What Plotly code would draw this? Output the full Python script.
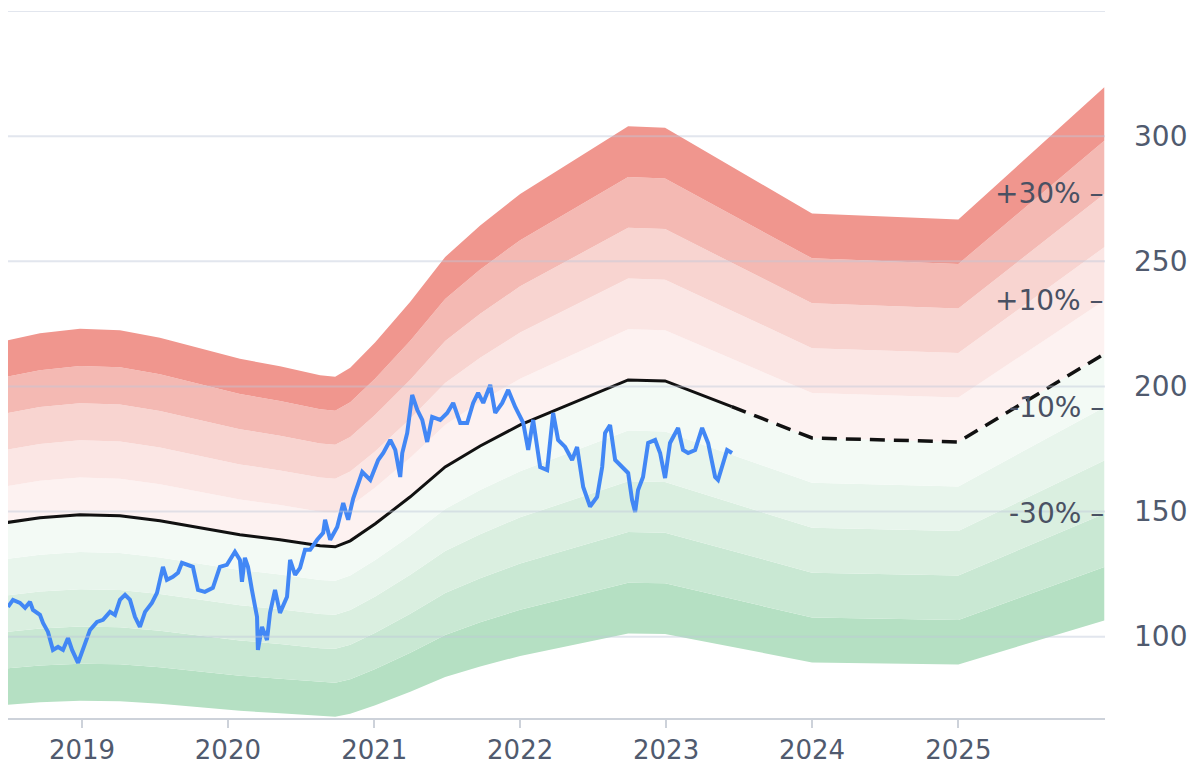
import plotly.graph_objects as go
from datetime import datetime, timedelta

# ---------------- data ----------------
# fair value (decimal years, value)
fv_t = [2018.45, 2018.712, 2018.986, 2019.260, 2019.534, 2019.808, 2020.082, 2020.356,
        2020.630, 2020.733, 2020.836, 2021.007, 2021.247, 2021.486, 2021.726, 2022.0,
        2022.411, 2022.740, 2022.993, 2023.45, 2024.0, 2025.0, 2026.0]
fv_v = [145.3, 147.5, 148.7, 148.3, 146.3, 143.5, 140.7, 138.7,
        136.3, 135.9, 138.3, 145.1, 155.9, 167.8, 176.2, 184.6,
        194.6, 202.6, 202.2, 191.9, 179.4, 177.8, 213.0]
fv_last_actual = 2023.45  # solid up to here, dashed (estimate) after

# share price (decimal years, value)
price_t = [2018.493, 2018.527, 2018.575, 2018.610, 2018.644, 2018.664, 2018.712, 2018.733,
           2018.767, 2018.801, 2018.836, 2018.870, 2018.904, 2018.932, 2018.973, 2019.007,
           2019.055, 2019.103, 2019.144, 2019.192, 2019.226, 2019.260, 2019.295, 2019.329,
           2019.363, 2019.397, 2019.432, 2019.479, 2019.514, 2019.555, 2019.582, 2019.623,
           2019.658, 2019.685, 2019.719, 2019.760, 2019.795, 2019.842, 2019.897, 2019.945,
           2019.993, 2020.048, 2020.082, 2020.096, 2020.116, 2020.137, 2020.164, 2020.199,
           2020.205, 2020.233, 2020.267, 2020.288, 2020.322, 2020.356, 2020.404, 2020.425,
           2020.459, 2020.493, 2020.527, 2020.562, 2020.610, 2020.651, 2020.664, 2020.699,
           2020.747, 2020.788, 2020.822, 2020.856, 2020.918, 2020.973, 2021.027, 2021.062,
           2021.110, 2021.144, 2021.178, 2021.192, 2021.226, 2021.260, 2021.295, 2021.329,
           2021.363, 2021.397, 2021.452, 2021.500, 2021.541, 2021.589, 2021.637, 2021.678,
           2021.712, 2021.747, 2021.795, 2021.829, 2021.877, 2021.918, 2021.966, 2022.021,
           2022.055, 2022.089, 2022.137, 2022.185, 2022.226, 2022.260, 2022.308, 2022.356,
           2022.390, 2022.432, 2022.479, 2022.527, 2022.562, 2022.582, 2022.616, 2022.651,
           2022.699, 2022.740, 2022.767, 2022.788, 2022.808, 2022.842, 2022.877, 2022.925,
           2022.959, 2022.993, 2023.027, 2023.082, 2023.116, 2023.151, 2023.199, 2023.247,
           2023.288, 2023.336, 2023.356, 2023.390, 2023.418, 2023.452]
price_v = [111.9, 114.7, 113.5, 111.5, 113.9, 110.7, 108.7, 105.5,
           101.9, 94.7, 95.9, 94.7, 99.5, 94.7, 89.5, 94.7,
           102.7, 105.9, 106.7, 109.9, 108.7, 114.7, 116.7, 114.7,
           107.9, 103.9, 109.9, 113.5, 117.5, 127.9, 122.7, 123.9,
           125.5, 129.5, 128.7, 127.9, 118.7, 117.9, 119.5, 127.9,
           128.7, 133.9, 130.7, 121.9, 131.5, 127.9, 118.7, 107.9,
           94.7, 103.9, 98.7, 109.5, 118.7, 109.5, 115.9, 130.7,
           124.7, 127.5, 134.7, 134.7, 138.7, 141.5, 146.7, 138.7,
           143.8, 153.4, 146.7, 155.2, 165.8, 162.6, 170.6, 173.4,
           178.6, 174.6, 163.8, 173.4, 181.4, 196.6, 190.6, 186.6,
           177.8, 187.8, 186.6, 189.4, 193.4, 185.4, 185.4, 193.4,
           197.4, 193.4, 200.6, 189.4, 193.4, 198.6, 191.8, 185.4,
           174.6, 186.6, 167.8, 166.6, 189.4, 178.6, 175.8, 170.6,
           175.8, 159.8, 152.0, 155.8, 167.8, 181.4, 184.6, 170.6,
           167.8, 165.4, 154.6, 149.8, 158.6, 163.8, 177.4, 178.6,
           173.4, 163.4, 177.4, 183.4, 174.6, 173.4, 174.6, 183.4,
           177.4, 163.8, 162.6, 169.4, 174.6, 173.4]

band_steps = [-0.5, -0.4, -0.3, -0.2, -0.1, 0.0, 0.1, 0.2, 0.3, 0.4, 0.5]
band_colors = ["rgb(181,224,195)", "rgb(201,232,211)", "rgb(218,239,224)",
               "rgb(232,245,236)", "rgb(243,250,245)",
               "rgb(253,242,241)", "rgb(251,230,228)", "rgb(248,212,208)",
               "rgb(244,185,179)", "rgb(240,150,142)"]
label_steps = [0.3, 0.1, -0.1, -0.3]
label_texts = ["+30% \u2013", "+10% \u2013", "-10% \u2013", "-30% \u2013"]
year_ticks = [2019, 2020, 2021, 2022, 2023, 2024, 2025]
y_ticks = [100, 150, 200, 250, 300]
grid_vals = [100, 150, 200, 250, 300, 350]

FONT = "DejaVu Sans"


def to_date(t):
    y = int(t // 1)
    start = datetime(y, 1, 1)
    days = (datetime(y + 1, 1, 1) - start).days
    return start + timedelta(days=(t - y) * days)


fv_x = [to_date(t) for t in fv_t]
px_x = [to_date(t) for t in price_t]

fig = go.Figure()

# bands
for i, s in enumerate(band_steps):
    fig.add_trace(go.Scatter(
        x=fv_x, y=[v * (1 + s) for v in fv_v], mode="lines",
        line=dict(width=0), hoverinfo="skip",
        fill=None if i == 0 else "tonexty",
        fillcolor=None if i == 0 else band_colors[i - 1],
    ))

# fair value line: solid then dashed
sx = [x for x, t in zip(fv_x, fv_t) if t <= fv_last_actual]
sy = [v for v, t in zip(fv_v, fv_t) if t <= fv_last_actual]
dx = [x for x, t in zip(fv_x, fv_t) if t >= fv_last_actual]
dy = [v for v, t in zip(fv_v, fv_t) if t >= fv_last_actual]
fig.add_trace(go.Scatter(x=sx, y=sy, mode="lines", line=dict(color="#111111", width=3)))
fig.add_trace(go.Scatter(x=dx, y=dy, mode="lines",
                         line=dict(color="#111111", width=3.5, dash="15px,9px")))

# price
fig.add_trace(go.Scatter(x=px_x, y=price_v, mode="lines",
                         line=dict(color="rgb(66,135,245)", width=4)))

# gridlines above bands
shapes = []
for g in grid_vals:
    shapes.append(dict(type="line", xref="paper", x0=0, x1=1, yref="y", y0=g, y1=g,
                       line=dict(color="rgba(190,200,218,0.45)", width=2), layer="above"))

annotations = []
for s, txt in zip(label_steps, label_texts):
    annotations.append(dict(xref="paper", x=1, xanchor="right", yref="y",
                            y=fv_v[-1] * (1 + s), yanchor="middle", text=txt,
                            showarrow=False, borderpad=0,
                            font=dict(family=FONT, size=28, color="#4a5163")))

fig.update_layout(
    width=1191, height=759,
    margin=dict(l=0, r=94, t=3, b=49),
    paper_bgcolor="white", plot_bgcolor="white",
    showlegend=False,
    shapes=shapes, annotations=annotations,
    font=dict(family=FONT, size=28, color="#505a6e"),
    xaxis=dict(
        type="date", automargin=False,
        range=[to_date(2018.493), to_date(2026.005)],
        tickvals=[datetime(y, 1, 1) for y in year_ticks],
        ticktext=[str(y) for y in year_ticks],
        showgrid=False, zeroline=False,
        showline=True, linecolor="#cdd2da", linewidth=2,
        ticks="outside", ticklen=8, tickwidth=2, tickcolor="#cdd2da",
        tickfont=dict(family=FONT, size=26, color="#505a6e"),
    ),
    yaxis=dict(
        side="right", range=[67.5, 350], automargin=False,
        tickvals=y_ticks, ticktext=[str(v) for v in y_ticks],
        showgrid=False, zeroline=False, showline=False,
        ticks="", ticklabelstandoff=28,
        tickfont=dict(family=FONT, size=28, color="#505a6e"),
    ),
)

fig.write_html("out.html")
